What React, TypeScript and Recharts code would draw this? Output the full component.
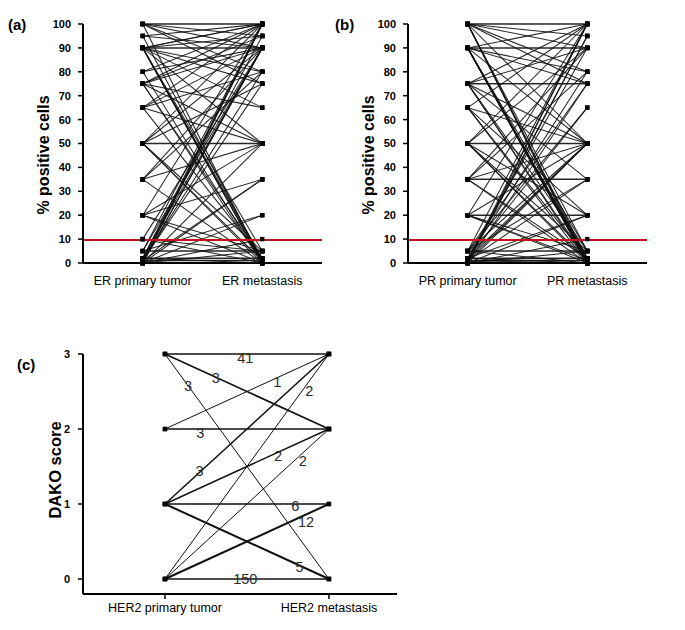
import React from 'react';
import { ComposedChart, Line, XAxis, YAxis, ReferenceLine, Scatter, Label } from 'recharts';

// ---------- DATA ----------
const percentTicks = [0, 10, 20, 30, 40, 50, 60, 70, 80, 90, 100];
const erCategories = ['ER primary tumor', 'ER metastasis'];
const prCategories = ['PR primary tumor', 'PR metastasis'];
const her2Categories = ['HER2 primary tumor', 'HER2 metastasis'];
const cutoff = 9.6;

const erPrimary = [
  100, 100, 100, 100, 100, 100, 95, 95, 95, 90, 90, 90, 90, 90, 90, 90, 90, 90, 90, 90, 90, 90,
  80, 80, 80, 75, 75, 75, 75, 75, 75, 75, 65, 65, 65, 65, 65, 50, 50, 50, 50, 50, 50, 50,
  35, 35, 35, 35, 20, 20, 20, 20, 20, 10, 10, 10, 5, 5, 5, 5, 2, 2, 2, 2, 2,
  1, 1, 1, 1, 1, 0, 0, 0, 0, 0, 0, 0, 0, 0, 0,
];
const erMetastasis = [
  100, 90, 95, 0, 80, 75, 100, 90, 1, 100, 95, 90, 80, 75, 50, 5, 0, 2, 1, 65, 100, 0,
  90, 100, 0, 90, 100, 95, 65, 50, 0, 2, 100, 90, 50, 80, 2, 50, 100, 90, 75, 0, 5, 1,
  80, 90, 0, 50, 100, 50, 35, 0, 5, 90, 0, 5, 5, 100, 90, 20, 100, 95, 90, 2, 0,
  100, 80, 75, 35, 1, 100, 90, 50, 20, 10, 0, 5, 100, 90, 35,
];

const prPrimary = [
  100, 100, 100, 100, 100, 100, 100, 100, 100, 100,
  90, 90, 90, 90, 90, 90, 90, 90, 90, 90, 90, 90, 90, 90,
  75, 75, 75, 75, 75, 75, 75, 75, 65, 65, 65, 65, 65,
  50, 50, 50, 50, 50, 50, 50, 35, 35, 35, 35, 35, 35,
  20, 20, 20, 20, 20, 20, 5, 5, 5, 5, 5, 5, 5,
  2, 2, 2, 2, 2, 2, 2, 1, 1, 1, 1, 1, 1, 0, 0, 0, 0, 0, 0, 0, 0,
];
const prMetastasis = [
  100, 90, 95, 80, 75, 0, 1, 5, 50, 2,
  100, 90, 0, 0, 1, 2, 5, 0, 80, 75, 50, 1, 2, 0,
  75, 100, 90, 0, 1, 50, 5, 35, 100, 50, 0, 2, 20,
  50, 100, 0, 5, 1, 90, 20, 35, 90, 0, 2, 80, 50,
  100, 50, 0, 5, 1, 20, 5, 100, 75, 35, 0, 50, 65,
  90, 80, 20, 0, 2, 50, 65, 100, 50, 35, 1, 0, 95, 0, 95, 75, 50, 10, 20, 5, 100,
];

const her2Ticks = [0, 1, 2, 3];
const her2Primary = [3, 3, 3, 2, 2, 1, 1, 1, 1, 0, 0, 0, 0];
const her2Metastasis = [3, 2, 0, 3, 2, 3, 2, 1, 0, 3, 2, 1, 0];
const her2Counts = [41, 3, 3, 1, 3, 3, 2, 6, 5, 2, 2, 12, 150];
// where each count label sits (data coordinates)
const her2LabelX = [1.98, 1.62, 1.28, 2.37, 1.43, 1.42, 2.38, 2.59, 2.64, 2.76, 2.68, 2.72, 1.98];
const her2LabelY = [2.95, 2.68, 2.57, 2.63, 1.95, 1.44, 1.64, 0.97, 0.16, 2.51, 1.57, 0.76, 0.0];

// ---------- STYLE ----------
const FONT = '"Liberation Sans", Arial, sans-serif';

const squareDot = (p: any) => {
  if (p.cx == null || p.cy == null) return <g key={`e-${p.index}`} />;
  return <rect key={`sq-${p.index}`} x={p.cx - 2.2} y={p.cy - 2.2} width={4.4} height={4.4} fill="#000" />;
};

function PercentPanel({ primary, metastasis, categories }: { primary: number[]; metastasis: number[]; categories: string[] }) {
  return (
    <ComposedChart width={330} height={300} margin={{ top: 24, right: 8, bottom: 7, left: 0 }}>
      <XAxis
        type="number"
        dataKey="x"
        domain={[0, 4]}
        ticks={[1, 3]}
        tickFormatter={(v: number) => (v === 1 ? categories[0] : categories[1])}
        tickLine={false}
        tickSize={6}
        tickMargin={7}
        height={30}
        axisLine={{ stroke: '#000', strokeWidth: 2 }}
        tick={{ fill: '#000', fontSize: 12.5, fontFamily: FONT }}
      />
      <YAxis
        type="number"
        domain={[0, 100]}
        ticks={percentTicks}
        width={83}
        tickSize={5}
        tickMargin={7}
        axisLine={{ stroke: '#000', strokeWidth: 2 }}
        tickLine={{ stroke: '#000', strokeWidth: 1.5 }}
        tick={{ fill: '#000', fontSize: 11, fontWeight: 'bold', fontFamily: FONT }}
      >
        <Label
          content={() => (
            <text
              x={43}
              y={155}
              transform="rotate(-90 43 155)"
              textAnchor="middle"
              dominantBaseline="central"
              fontSize={16}
              fontWeight="bold"
              fontFamily={FONT}
              fill="#000"
            >
              % positive cells
            </text>
          )}
        />
      </YAxis>
      {primary.map((a, i) => (
        <Line
          key={`l-${i}`}
          data={[{ x: 1, y: a }, { x: 3, y: metastasis[i] }]}
          dataKey="y"
          stroke="#111"
          strokeOpacity={0.9}
          strokeWidth={a === metastasis[i] ? 1.5 : 1.05}
          dot={squareDot}
          activeDot={false}
          legendType="none"
          isAnimationActive={false}
        />
      ))}
      <ReferenceLine y={cutoff} stroke="#c0141c" strokeWidth={2} ifOverflow="visible" />
    </ComposedChart>
  );
}

function Her2Panel() {
  const labels = her2Counts.map((c, i) => ({ x: her2LabelX[i], y: her2LabelY[i], label: String(c) }));
  const widthFor = (i: number) => {
    const a = her2Primary[i];
    const b = her2Metastasis[i];
    if (a === b) return 1.6;
    if (her2Counts[i] >= 5) return 2;
    if (a === 3 && b === 2) return 1.7;
    if (a === 1) return 1.5;
    return 1;
  };
  return (
    <ComposedChart width={400} height={300} margin={{ top: 24, right: 3, bottom: 6, left: 0 }}>
      <XAxis
        type="number"
        dataKey="x"
        domain={[0, 3.83]}
        ticks={[1, 3]}
        tickFormatter={(v: number) => (v === 1 ? her2Categories[0] : her2Categories[1])}
        tickSize={5}
        tickMargin={4}
        height={30}
        axisLine={{ stroke: '#000', strokeWidth: 2 }}
        tickLine={{ stroke: '#000', strokeWidth: 1.5 }}
        tick={{ fill: '#000', fontSize: 12.5, fontFamily: FONT }}
      />
      <YAxis
        type="number"
        dataKey="y"
        domain={[-0.2, 3]}
        ticks={her2Ticks}
        width={83}
        tickSize={5}
        tickMargin={8}
        axisLine={{ stroke: '#000', strokeWidth: 2 }}
        tickLine={{ stroke: '#000', strokeWidth: 1.5 }}
        tick={{ fill: '#000', fontSize: 11, fontWeight: 'bold', fontFamily: FONT }}
      >
        <Label
          content={() => (
            <text
              x={55}
              y={140}
              transform="rotate(-90 55 140)"
              textAnchor="middle"
              dominantBaseline="central"
              fontSize={16.5}
              fontWeight="bold"
              fontFamily={FONT}
              fill="#000"
            >
              DAKO score
            </text>
          )}
        />
      </YAxis>
      {her2Primary.map((a, i) => (
        <Line
          key={`h-${i}`}
          data={[{ x: 1, y: a }, { x: 3, y: her2Metastasis[i] }]}
          dataKey="y"
          stroke="#111"
          strokeWidth={widthFor(i)}
          dot={squareDot}
          activeDot={false}
          legendType="none"
          isAnimationActive={false}
        />
      ))}
      <Scatter
        data={labels}
        dataKey="y"
        isAnimationActive={false}
        legendType="none"
        shape={(p: any) => (
          <text
            x={p.cx}
            y={p.cy}
            textAnchor="middle"
            dominantBaseline="central"
            fontSize={14.5}
            fontFamily={FONT}
            fill="#2a2a2a"
          >
            {p.payload.label}
          </text>
        )}
      />
    </ComposedChart>
  );
}

const letterStyle: React.CSSProperties = {
  position: 'absolute',
  fontFamily: FONT,
  fontWeight: 'bold',
  fontSize: 15,
  lineHeight: '15px',
  color: '#000',
};

export default function App() {
  return (
    <div
      style={{
        position: 'absolute',
        left: 0,
        top: 0,
        width: 685,
        height: 630,
        background: '#fff',
        overflow: 'hidden',
        fontFamily: FONT,
      }}
    >
      <div style={{ position: 'absolute', left: 0, top: 0 }}>
        <PercentPanel primary={erPrimary} metastasis={erMetastasis} categories={erCategories} />
      </div>
      <div style={{ position: 'absolute', left: 325, top: 0 }}>
        <PercentPanel primary={prPrimary} metastasis={prMetastasis} categories={prCategories} />
      </div>
      <div style={{ position: 'absolute', left: 0, top: 330 }}>
        <Her2Panel />
      </div>
      <div style={{ ...letterStyle, left: 8, top: 17 }}>(a)</div>
      <div style={{ ...letterStyle, left: 335, top: 17 }}>(b)</div>
      <div style={{ ...letterStyle, left: 17, top: 357 }}>(c)</div>
    </div>
  );
}
